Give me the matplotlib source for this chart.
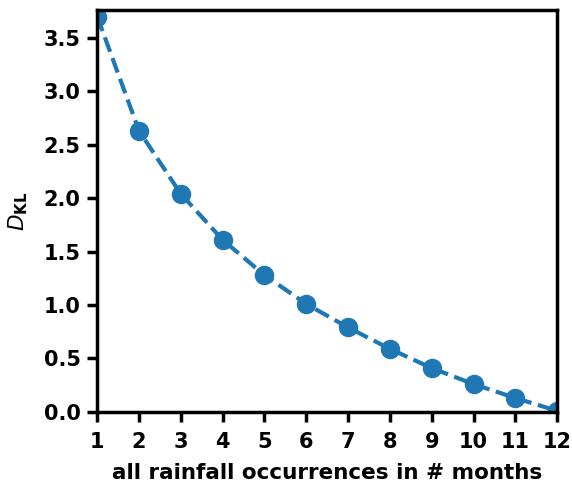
import matplotlib
matplotlib.use("Agg")
import matplotlib.pyplot as plt

months = [1, 2, 3, 4, 5, 6, 7, 8, 9, 10, 11, 12]
dkl = [3.70, 2.63, 2.04, 1.61, 1.28, 1.01, 0.79, 0.59, 0.41, 0.26, 0.13, 0.01]
xticks = months
yticks = [0.0, 0.5, 1.0, 1.5, 2.0, 2.5, 3.0, 3.5]

plt.rcParams['font.weight'] = 'bold'
plt.rcParams['axes.labelweight'] = 'bold'
plt.rcParams['mathtext.fontset'] = 'custom'
plt.rcParams['mathtext.it'] = 'DejaVu Sans:italic:normal'
plt.rcParams['mathtext.bf'] = 'DejaVu Sans:bold'
plt.rcParams['mathtext.rm'] = 'DejaVu Sans'

fig = plt.figure(figsize=(5.72, 4.84), dpi=100)
ax = fig.add_axes([0.17, 0.149, 0.804, 0.83])
ax.plot(months, dkl, linestyle='--', marker='o', color='#1f77b4', linewidth=3, markersize=13)
ax.set_xlim(1, 12)
ax.set_ylim(0, 3.76)
ax.set_xticks(xticks)
ax.set_yticks(yticks)
ax.set_yticklabels([f"{v:.1f}" for v in yticks])
ax.tick_params(labelsize=15, width=2.5, length=7)
ax.tick_params(axis='x', pad=7.5)
ax.tick_params(axis='y', pad=5)
for s in ax.spines.values():
    s.set_linewidth(2.5)
ax.set_xlabel('all rainfall occurrences in # months', fontsize=15.5, fontweight='bold', labelpad=8)
ax.set_ylabel(r'$D_{\mathbf{KL}}$', fontsize=15.5, fontweight='normal', labelpad=10)
fig.savefig('out.png', dpi=100)
